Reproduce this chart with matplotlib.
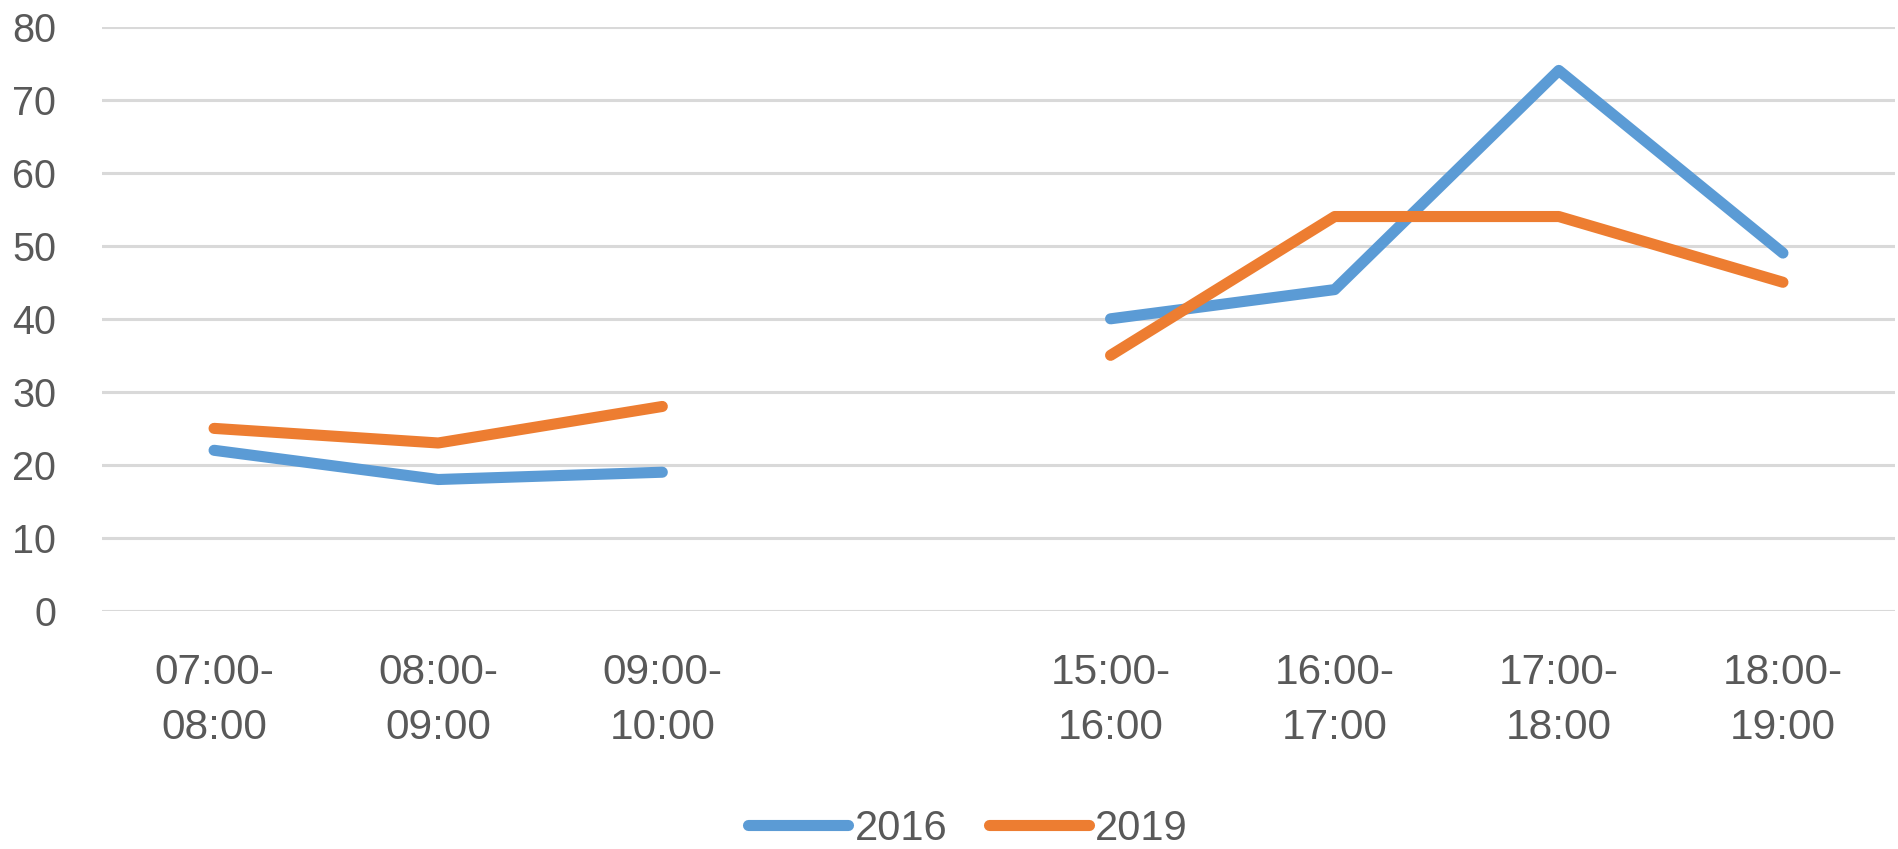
import matplotlib.pyplot as plt
import numpy as np

plt.rcParams['font.family'] = ['Liberation Sans', 'DejaVu Sans']

# categories (empty slot between morning and afternoon)
categories = ['07:00-\n08:00', '08:00-\n09:00', '09:00-\n10:00', '',
              '15:00-\n16:00', '16:00-\n17:00', '17:00-\n18:00', '18:00-\n19:00']
vals_2016 = [22, 18, 19, np.nan, 40, 44, 74, 49]
vals_2019 = [25, 23, 28, np.nan, 35, 54, 54, 45]

blue = '#5B9BD5'
orange = '#ED7D31'
text_col = '#595959'

fig = plt.figure(figsize=(18.98, 8.49), dpi=100)
ax = fig.add_axes([102/1898, 1 - 611/849, (1895-102)/1898, (611-26.6)/849])

x = np.arange(len(categories))
ax.plot(x, vals_2016, color=blue, lw=8, solid_capstyle='round',
        solid_joinstyle='round', label='2016')
ax.plot(x, vals_2019, color=orange, lw=8, solid_capstyle='round',
        solid_joinstyle='round', label='2019')

ax.set_xlim(-0.5, len(categories) - 0.5)
ax.set_ylim(0, 80)
ax.set_yticks(range(0, 81, 10))
ax.set_xticks(x)
ax.set_xticklabels(categories, linespacing=1.5)
ax.tick_params(axis='both', length=0, labelcolor=text_col)
ax.tick_params(axis='x', pad=30, labelsize=30.5)
ax.tick_params(axis='y', pad=33, labelsize=28.5)

ax.grid(axis='y', color='#D9D9D9', lw=2.2)
ax.set_axisbelow(True)
for s in ax.spines.values():
    s.set_visible(False)

leg = fig.legend(loc='center', bbox_to_anchor=(968/1898, 1 - 829/849), ncol=2,
                 frameon=False, fontsize=30, handlelength=2.4, handletextpad=0.15,
                 columnspacing=1.0, labelcolor=text_col)
for h in leg.get_lines():
    h.set_linewidth(8)
    h.set_solid_capstyle('round')

fig.savefig('out.png', dpi=100)
